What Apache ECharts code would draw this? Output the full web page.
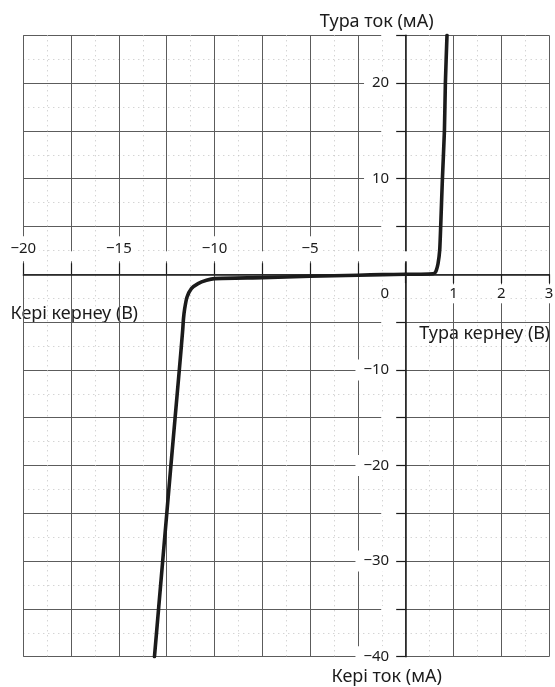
<!DOCTYPE html>
<html>
<head>
<meta charset="utf-8">
<script src="https://cdn.jsdelivr.net/npm/echarts@6/dist/echarts.min.js"></script>
<style>
  html, body { margin: 0; padding: 0; background: #ffffff; }
  #chart { width: 555px; height: 687px; }
</style>
</head>
<body>
<div id="chart"></div>
<script>
// Diode current–voltage characteristic.
// Reverse branch (V ≤ 0) is drawn in the left grid, forward branch (V ≥ 0) in the right grid,
// so the two voltage ranges can use different scales.

// Reverse branch: voltage (V) and current (mA)
const reverseVoltage = [-13.14, -12.71, -12.28, -11.84, -11.67, -11.62, -11.56, -11.44, -11.21, -10.86, -10.42, -10.0, -7.5, -5.0, -2.5, -1.2, 0];
const reverseCurrent = [-40, -30, -20, -10, -6, -4.6, -3.6, -2.4, -1.5, -0.97, -0.63, -0.45, -0.35, -0.21, -0.1, -0.03, 0];

// Forward branch: voltage (V) and current (mA)
const forwardVoltage = [0, 0.3, 0.57, 0.61, 0.64, 0.676, 0.711, 0.732, 0.768, 0.81, 0.83, 0.864];
const forwardCurrent = [0, 0.01, 0.05, 0.15, 0.42, 1.1, 2.5, 5, 10, 15, 20, 25];

// Labelled ticks
const reverseVoltLabels = [-20, -15, -10, -5];
const forwardVoltLabels = [0, 1, 2, 3];
const currentLabels = [20, 10, -10, -20, -30, -40];

// Axis titles
const forwardCurrentTitle = 'Тура ток (мА)';
const reverseCurrentTitle = 'Кері ток (мА)';
const reverseVoltTitle = 'Кері кернеу (В)';
const forwardVoltTitle = 'Тура кернеу (В)';

// Layout: square graph-paper cells, 8 columns for reverse voltage, 3 for forward,
// 5 rows above zero current and 8 below
const CELL = 47.8;
const LEFT = 23.3;
const TOP = 35.3;
const ORIGIN_X = LEFT + 8 * CELL;
const ABOVE = 5 * CELL;   // distance from top edge to zero-current line
const BELOW = 8 * CELL;   // distance from zero-current line to bottom edge

const FONT = 'Noto Sans';
const INK = '#1b1b1b';
const GRID_LINE = { color: '#5c5c5c', width: 1 };
const DOT_LINE = { color: '#c2c2c2', width: 1, type: [1, 4] };

const fmtNum = v => (v < 0 ? '\u2212' + Math.abs(v) : String(v));

const chart = echarts.init(document.getElementById('chart'), null, { renderer: 'canvas' });

chart.setOption({
  backgroundColor: '#ffffff',
  animation: false,
  textStyle: { fontFamily: FONT, color: INK },
  grid: [
    { left: LEFT, top: TOP, width: 8 * CELL, height: ABOVE + BELOW, outerBoundsMode: 'none', containLabel: false },
    { left: ORIGIN_X, top: TOP, width: 3 * CELL, height: ABOVE + BELOW, outerBoundsMode: 'none', containLabel: false }
  ],
  xAxis: [
    {
      // reverse voltage axis, moved down from the top edge onto the zero-current line
      type: 'value', gridIndex: 0, min: -20, max: 0, interval: 2.5, position: 'top',
      offset: -ABOVE,
      axisLine: { onZero: false, lineStyle: { color: INK, width: 1.5 } },
      axisTick: { show: true, length: 11, lineStyle: { color: INK, width: 1.2 } },
      axisLabel: {
        fontFamily: FONT, fontSize: 15, color: INK, margin: 13,
        backgroundColor: '#ffffff', padding: [5, 3],
        showMinLabel: true, showMaxLabel: true,
        formatter: v => (reverseVoltLabels.includes(v) ? fmtNum(v) : '')
      },
      splitLine: { show: true, lineStyle: GRID_LINE },
      minorTick: { show: false, splitNumber: 2 },
      minorSplitLine: { show: true, lineStyle: DOT_LINE }
    },
    {
      // forward voltage axis, moved up from the bottom edge onto the zero-current line
      type: 'value', gridIndex: 1, min: 0, max: 3, interval: 1, position: 'bottom',
      offset: -BELOW,
      axisLine: { onZero: false, lineStyle: { color: INK, width: 1.5 } },
      axisTick: { show: true, length: 9, lineStyle: { color: INK, width: 1.2 } },
      axisLabel: {
        fontFamily: FONT, fontSize: 15, color: INK, margin: 10,
        showMinLabel: true, showMaxLabel: true,
        formatter: v => {
          if (!forwardVoltLabels.includes(v)) return '';
          return v === 0 ? '{o|0}' : '{n|' + v + '}';
        },
        rich: {
          o: { fontFamily: FONT, fontSize: 15, color: INK, padding: [2, 42, 2, 0] },
          n: { fontFamily: FONT, fontSize: 15, color: INK, padding: [2, 3], backgroundColor: '#ffffff' }
        }
      },
      splitLine: { show: true, lineStyle: GRID_LINE },
      minorTick: { show: false, splitNumber: 2 },
      minorSplitLine: { show: true, lineStyle: DOT_LINE }
    }
  ],
  yAxis: [
    {
      type: 'value', gridIndex: 0, min: -40, max: 25, interval: 5, position: 'right',
      name: reverseCurrentTitle, nameLocation: 'start', nameGap: 11,
      nameTextStyle: { fontFamily: FONT, fontSize: 18, color: INK, padding: [0, 38, 0, 0] },
      axisLine: { show: false },
      axisTick: { show: false },
      axisLabel: { show: false },
      splitLine: { show: true, lineStyle: GRID_LINE },
      minorTick: { show: false, splitNumber: 2 },
      minorSplitLine: { show: true, lineStyle: DOT_LINE }
    },
    {
      type: 'value', gridIndex: 1, min: -40, max: 25, interval: 5, position: 'left',
      name: forwardCurrentTitle, nameLocation: 'end', nameGap: 4,
      nameTextStyle: { fontFamily: FONT, fontSize: 18, color: INK, padding: [0, 58, 0, 0] },
      axisLine: { onZero: false, lineStyle: { color: INK, width: 1.5 } },
      axisTick: { show: true, length: 10, lineStyle: { color: INK, width: 1.2 } },
      axisLabel: {
        fontFamily: FONT, fontSize: 15, color: INK, margin: 9.5,
        backgroundColor: '#ffffff', padding: [3, 7, 3, 8],
        formatter: v => (currentLabels.includes(v) ? fmtNum(v) : '')
      },
      splitLine: { show: true, lineStyle: GRID_LINE },
      minorTick: { show: false, splitNumber: 2 },
      minorSplitLine: { show: true, lineStyle: DOT_LINE }
    }
  ],
  series: [
    {
      type: 'line', xAxisIndex: 0, yAxisIndex: 0, z: 5,
      data: reverseVoltage.map((v, i) => [v, reverseCurrent[i]]),
      showSymbol: false, smooth: 0.2,
      lineStyle: { color: INK, width: 3.6, cap: 'round', join: 'round' }
    },
    {
      type: 'line', xAxisIndex: 1, yAxisIndex: 1, z: 5,
      data: forwardVoltage.map((v, i) => [v, forwardCurrent[i]]),
      showSymbol: false, smooth: 0.2,
      lineStyle: { color: INK, width: 3.6, cap: 'round', join: 'round' }
    }
  ],
  graphic: [
    {
      type: 'group', z: 3,
      children: [
        { type: 'rect', shape: { x: 0, y: 290, width: 144, height: 39 }, style: { fill: '#ffffff' } },
        {
          type: 'text', x: 138, y: 314,
          style: { text: reverseVoltTitle, fontFamily: FONT, fontSize: 18, fill: INK, align: 'right', verticalAlign: 'middle' }
        },
        { type: 'rect', shape: { x: 430, y: 320, width: 125, height: 31 }, style: { fill: '#ffffff' } },
        {
          type: 'text', x: 550, y: 334,
          style: { text: forwardVoltTitle, fontFamily: FONT, fontSize: 18, fill: INK, align: 'right', verticalAlign: 'middle' }
        }
      ]
    }
  ]
});
</script>
</body>
</html>
